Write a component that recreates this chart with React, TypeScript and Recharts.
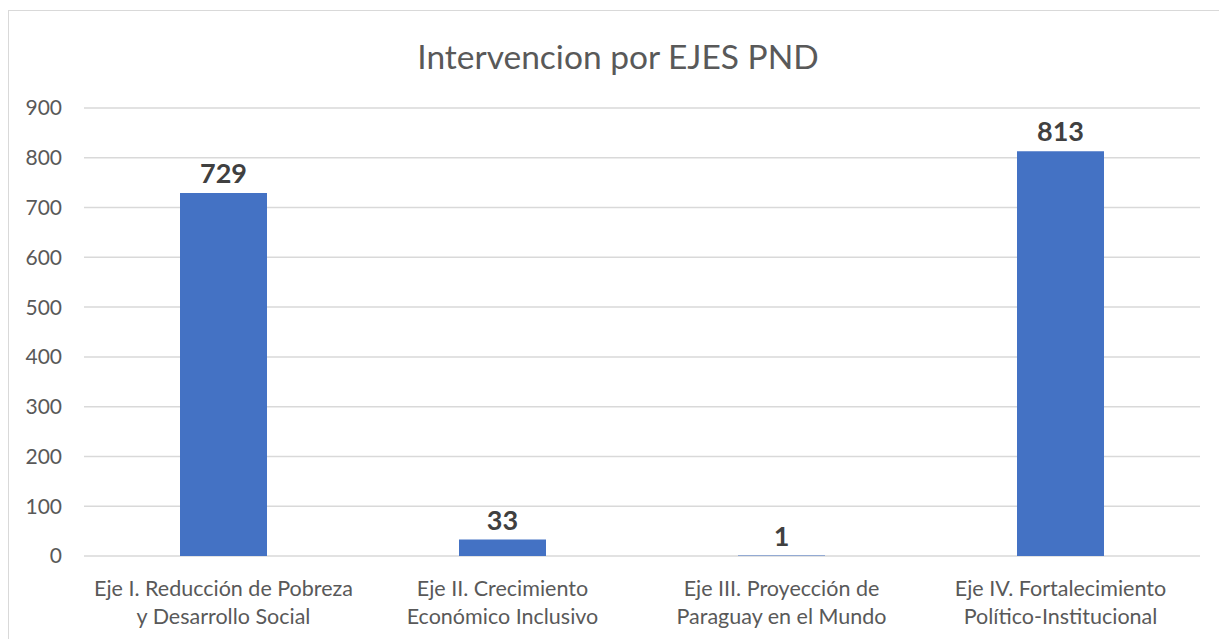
import { BarChart, Bar, XAxis, YAxis, CartesianGrid, LabelList } from "recharts"

const categories = [
  "Eje I. Reducción de Pobreza\ny Desarrollo Social",
  "Eje II. Crecimiento\nEconómico Inclusivo",
  "Eje III. Proyección de\nParaguay en el Mundo",
  "Eje IV. Fortalecimiento\nPolítico-Institucional",
]
const intervenciones = [729, 33, 1, 813]
const yTicks = [0, 100, 200, 300, 400, 500, 600, 700, 800, 900]

const data = categories.map((name, i) => ({ name, value: intervenciones[i] }))

const FONT = "Lato, 'Open Sans', sans-serif"

const XTick = (props: any) => {
  const { x, y, payload } = props
  const lines = String(payload.value).split("\n")
  return (
    <text x={x} y={y} textAnchor="middle" fill="#595959" fontSize={21.5} fontFamily={FONT}>
      {lines.map((l: string, i: number) => (
        <tspan key={i} x={x} dy={i === 0 ? 32 : 28}>{l}</tspan>
      ))}
    </text>
  )
}

const App = () => {
  return (
    <div style={{ position: "absolute", left: 0, top: 0, width: 1219, height: 639, background: "#fff", fontFamily: FONT }}>
      <div style={{ position: "absolute", left: 8, top: 10, width: 1220, height: 640, borderLeft: "1.5px solid #d9d9d9", borderTop: "1.5px solid #d9d9d9" }} />
      <div style={{ position: "absolute", left: 0, top: 36, width: 1236, textAlign: "center", fontSize: 33.5, color: "#595959" }}>
        Intervencion por EJES PND
      </div>
      <BarChart
        width={1219}
        height={639}
        data={data}
        margin={{ top: 108, right: 19, bottom: 0, left: 0 }}
        style={{ position: "absolute", left: 0, top: 0 }}
      >
        <CartesianGrid vertical={false} stroke="#d9d9d9" strokeWidth={1.5} />
        <XAxis
          dataKey="name"
          axisLine={false}
          tickLine={false}
          interval={0}
          height={83}
          tick={<XTick />}
        />
        <YAxis
          width={84}
          domain={[0, 900]}
          ticks={yTicks}
          axisLine={false}
          tickLine={false}
          tickSize={0}
          tickMargin={22}
          tick={{ fill: "#595959", fontSize: 21, fontFamily: FONT }}
        />
        <Bar dataKey="value" fill="#4472C4" barSize={87} isAnimationActive={false}>
          <LabelList
            dataKey="value"
            position="top"
            offset={10}
            fill="#404040"
            fontSize={27}
            fontWeight="bold"
            fontFamily={FONT}
          />
        </Bar>
      </BarChart>
    </div>
  )
}

export default App
